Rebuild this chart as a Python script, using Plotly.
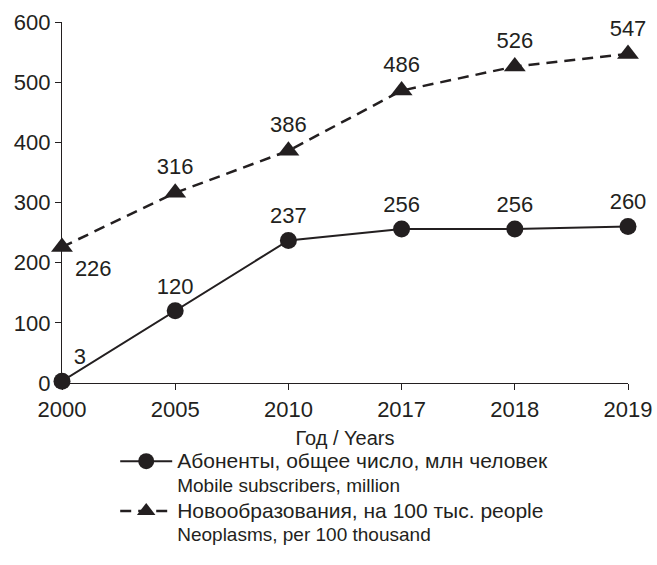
import plotly.graph_objects as go

years = ["2000", "2005", "2010", "2017", "2018", "2019"]
subscribers = [3, 120, 237, 256, 256, 260]
neoplasms = [226, 316, 386, 486, 526, 547]
sub_pos = ["top right", "top center", "top center", "top center", "top center", "top center"]
neo_pos = ["bottom right", "top center", "top center", "top center", "top center", "top center"]
sub_name_ru = "Абоненты, общее число, млн человек"
sub_name_en = "Mobile subscribers, million"
neo_name_ru = "Новообразования, на 100 тыс. people"
neo_name_en = "Neoplasms, per 100 thousand"

INK = "#231f20"
FONT = "Liberation Sans, Arial, sans-serif"


def legend_name(ru, en):
    return (f"<span style='font-size:21px'>{ru}</span><br>"
            f"<span style='font-size:19px'>{en}</span>")


fig = go.Figure()
fig.add_trace(go.Scatter(
    x=years, y=subscribers, mode="lines+markers+text",
    name=legend_name(sub_name_ru, sub_name_en),
    line=dict(color=INK, width=2),
    marker=dict(symbol="circle", size=17, color=INK),
    text=[str(v) for v in subscribers], textposition=sub_pos,
    textfont=dict(size=22, color=INK, family=FONT),
    cliponaxis=False,
))
fig.add_trace(go.Scatter(
    x=years, y=neoplasms, mode="lines+markers+text",
    name=legend_name(neo_name_ru, neo_name_en),
    line=dict(color=INK, width=2.5, dash="11px,7px"),
    marker=dict(symbol="triangle-up", size=19, color=INK),
    text=[str(v) for v in neoplasms], textposition=neo_pos,
    textfont=dict(size=22, color=INK, family=FONT),
    cliponaxis=False,
))

fig.update_layout(
    width=657, height=565,
    margin=dict(l=62, r=29, t=22, b=182),
    paper_bgcolor="white", plot_bgcolor="white",
    font=dict(family=FONT, color=INK, size=21),
    showlegend=True,
    legend=dict(
        x=0.094, y=-0.166, xanchor="left", yanchor="top",
        font=dict(size=18, color=INK, family=FONT),
        valign="top", bgcolor="rgba(0,0,0,0)", itemwidth=52,
        tracegroupgap=0,
    ),
    xaxis=dict(
        type="category", range=[0, 5], showgrid=False, zeroline=False,
        showline=True, linecolor=INK, linewidth=1.2, automargin=False,
        ticks="outside", ticklen=6, tickcolor=INK, tickwidth=1.2,
        tickfont=dict(size=22, color=INK, family=FONT),
        title=dict(text="Год / Years", font=dict(size=20, color=INK, family=FONT), standoff=10),
    ),
    yaxis=dict(
        range=[0, 600], dtick=100, showgrid=False, zeroline=False,
        showline=True, linecolor=INK, linewidth=1.2, automargin=False,
        ticks="outside", ticklen=6, tickcolor=INK, tickwidth=1.2,
        tickfont=dict(size=22, color=INK, family=FONT),
    ),
)

fig.write_html("out.html", config={"displayModeBar": False},
               post_script="document.body.style.margin='0';")
